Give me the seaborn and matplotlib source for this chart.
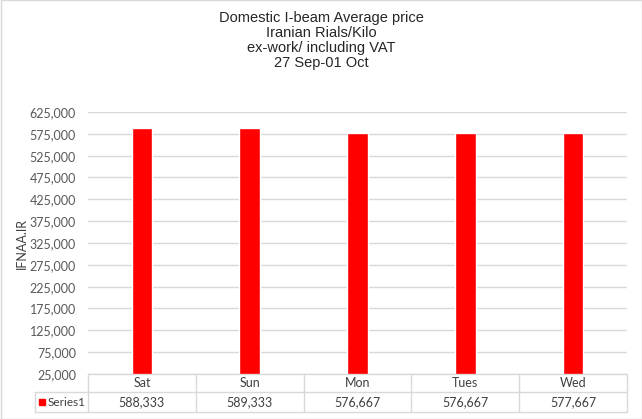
import matplotlib
matplotlib.use("Agg")
import matplotlib.pyplot as plt
import seaborn as sns
import pandas as pd
from matplotlib.lines import Line2D
from matplotlib.patches import Rectangle

days = ["Sat", "Sun", "Mon", "Tues", "Wed"]
prices = [588333, 589333, 576667, 576667, 577667]
series_name = "Series1"
title_lines = ["Domestic I-beam Average price", "Iranian Rials/Kilo",
               "ex-work/ including VAT", "27 Sep-01 Oct"]
y_label = "IFNAA.IR"
y_ticks = list(range(25000, 625001, 50000))

W, H = 642, 419
sns.set_theme(style="white")
plt.rcParams['font.family'] = ['Liberation Sans', 'DejaVu Sans']
SMALL = ['Lato', 'DejaVu Sans']

fig = plt.figure(figsize=(W / 100, H / 100), dpi=100)

def fx(x):
    return x / W

def fy(y):
    return 1 - y / H

L, R, T, B = 88, 627, 112, 374
ax = fig.add_axes([fx(L), fy(B), fx(R) - fx(L), fy(T) - fy(B)])
df = pd.DataFrame({"day": days, "price": prices})
sns.barplot(data=df, x="day", y="price", color="#ff0000", saturation=1,
            width=0.19, ax=ax, zorder=3)
ax.set_xlim(-0.5, len(days) - 0.5)
ax.set_ylim(y_ticks[0], y_ticks[-1])
ax.set_yticks(y_ticks)
ax.set_yticklabels([f"{v:,}" for v in y_ticks], color="#595959", fontsize=9,
                   family=SMALL)
ax.tick_params(axis="y", length=0, pad=8.6)
ax.set_xticks([])
ax.set_xlabel("")
ax.set_ylabel("")
ax.grid(axis="y", color="#d9d9d9", linewidth=1, zorder=0)
for s in ax.spines.values():
    s.set_visible(False)

# y label
fig.text(fx(22), fy(243), y_label, rotation=90, ha="center", va="center",
         fontsize=9, color="#404040", family=SMALL)

# title
for i, line in enumerate(title_lines):
    fig.text(fx(321), fy(18 + 15 * i), line, ha="center", va="center",
             fontsize=10.5, color="#262626")

# data table
gc = "#d9d9d9"
def hline(x0, x1, y):
    fig.add_artist(Line2D([fx(x0), fx(x1)], [fy(y), fy(y)], color=gc, lw=1))
def vline(x, y0, y1):
    fig.add_artist(Line2D([fx(x), fx(x)], [fy(y0), fy(y1)], color=gc, lw=1))

r0, r1, r2 = 374, 392, 412
leftcell = 35
cw = (R - L) / len(days)
hline(L, R, r0)
hline(leftcell, R, r1)
hline(leftcell, R, r2)
vline(leftcell, r1, r2)
for i in range(len(days) + 1):
    vline(L + i * cw, r0, r2)
for i, (d, p) in enumerate(zip(days, prices)):
    cx = L + (i + 0.5) * cw
    fig.text(fx(cx), fy((r0 + r1) / 2), d, ha="center", va="center",
             fontsize=9, color="#404040", family=SMALL)
    fig.text(fx(cx), fy((r1 + r2) / 2), f"{p:,}", ha="center", va="center",
             fontsize=9, color="#404040", family=SMALL)
fig.add_artist(Rectangle((fx(39), fy(405)), fx(6), fy(0) - fy(6),
                         color="#ff0000", transform=fig.transFigure))
fig.text(fx(48), fy((r1 + r2) / 2), series_name, ha="left", va="center",
         fontsize=8.5, color="#404040", family=SMALL)

# outer border
fig.add_artist(Rectangle((fx(0.5), fy(418.5)), fx(641), fy(0) - fy(418),
                         fill=False, edgecolor="#d9d9d9", lw=1,
                         transform=fig.transFigure))

fig.savefig("out.png", dpi=100)
